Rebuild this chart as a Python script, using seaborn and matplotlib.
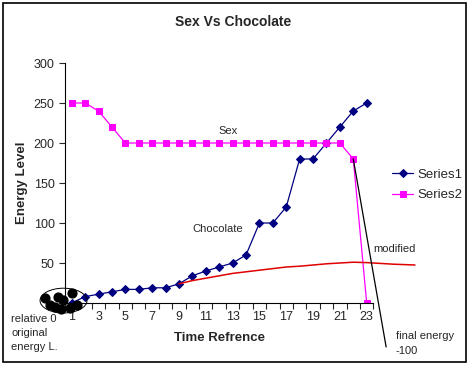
import numpy as np
import pandas as pd
import seaborn as sb
import matplotlib.pyplot as plt
from matplotlib.patches import Ellipse, Rectangle
from matplotlib.ticker import FixedLocator

time = list(range(1, 24))
series1 = [0, 8, 11, 14, 17, 17, 19, 19, 24, 34, 40, 45, 50, 60,
           100, 100, 120, 180, 180, 200, 220, 240, 250]
series2 = [250, 250, 240, 220, 200, 200, 200, 200, 200, 200, 200, 200,
           200, 200, 200, 200, 200, 200, 200, 200, 200, 180, 0]

# hand drawn "modified" curve
modX = [9, 10, 11, 12, 13, 14, 15, 16, 17, 18, 19, 20, 21, 22, 23, 24, 25, 26.6]
modY = [24, 28, 31, 34, 37, 39, 41, 43, 45, 46, 47.5, 49, 50, 51, 50.5, 49.5, 48.5, 47.5]

# "final energy -100" line
finalX = [22, 24.45]
finalY = [180, -55]

# scribbles around the start point
blobX = [-0.99, -0.6, -0.24, -0.02, 0.35, 0.87, 1.02, 1.39, 0.2]
blobY = [6, -2.5, -5, 7.5, 3.75, -6, 12.5, -2.5, -8]

df = pd.DataFrame({'time': time, 'Series1': series1, 'Series2': series2})

sb.set_style('white')
plt.rcParams['font.family'] = ['Liberation Sans', 'DejaVu Sans']

fig = plt.figure(figsize=(4.74, 3.72), dpi=100)
ax = fig.add_axes([65/474, 1-303/372, 308.4/474, 240/372])

sb.lineplot(data=df, x='time', y='Series1', ax=ax, color='#000080', marker='D',
            markersize=4.5, markeredgecolor='#000080', linewidth=0.9, label='Series1')
sb.lineplot(data=df, x='time', y='Series2', ax=ax, color='#FF00FF', marker='s',
            markersize=4.5, markeredgecolor='#FF00FF', linewidth=0.9, label='Series2')

ax.plot(modX, modY, color='#E00000', linewidth=1.1, clip_on=False, zorder=4)
ax.plot(finalX, finalY, color='black', linewidth=0.9, clip_on=False, zorder=5)
ax.scatter(blobX, blobY, s=40, color='black', clip_on=False, zorder=6)
ax.add_patch(Ellipse((0.39, 3), 3.5, 31, fill=False, edgecolor='black',
                     linewidth=0.7, clip_on=False, zorder=6))

ax.set_xlim(0.5, 23.5)
ax.set_ylim(0, 300)
ax.set_yticks(range(0, 301, 50))
ax.set_yticklabels(['', '50', '100', '150', '200', '250', '300'])
ax.set_xticks(range(1, 24, 2))
ax.xaxis.set_minor_locator(FixedLocator(np.arange(0.5, 24, 1)))
ax.tick_params(axis='x', which='major', length=0, labelsize=9, pad=6)
ax.tick_params(axis='x', which='minor', length=4, width=0.8, direction='out', bottom=True)
ax.tick_params(axis='y', length=4, width=0.8, direction='out', left=True, labelsize=9)

for s in ['top', 'right']:
    ax.spines[s].set_visible(False)
for s in ['left', 'bottom']:
    ax.spines[s].set_color('black')
    ax.spines[s].set_linewidth(0.8)

ax.set_xlabel('Time Refrence', fontsize=9.5, fontweight='bold', labelpad=6)
ax.set_ylabel('Energy Level', fontsize=9.5, fontweight='bold', labelpad=4)
fig.text(233/474, 1-22/372, 'Sex Vs Chocolate', ha='center', va='center',
         fontsize=10, fontweight='bold')

ax.legend(loc='center left', bbox_to_anchor=(387/474, 1-185/372),
          bbox_transform=fig.transFigure, frameon=False, fontsize=9.5,
          handlelength=1.6, handletextpad=0.3, labelspacing=0.6, borderaxespad=0)

def px(x, y, s, ha='left'):
    fig.text(x/474, 1-y/372, s, ha=ha, va='center', fontsize=8)

px(228, 131, 'Sex', 'center')
px(218, 229, 'Chocolate', 'center')
px(373, 249, 'modified')
px(396, 336, 'final energy')
px(395, 351, '-100')
px(11, 319, 'relative 0')
px(11, 333, 'original')
px(11, 347, 'energy L.')

fig.add_artist(Rectangle((3/474, 1-362/372), 463/474, 359/372, fill=False,
                         edgecolor='black', linewidth=1.2, transform=fig.transFigure))

fig.savefig('out.png', dpi=100)
